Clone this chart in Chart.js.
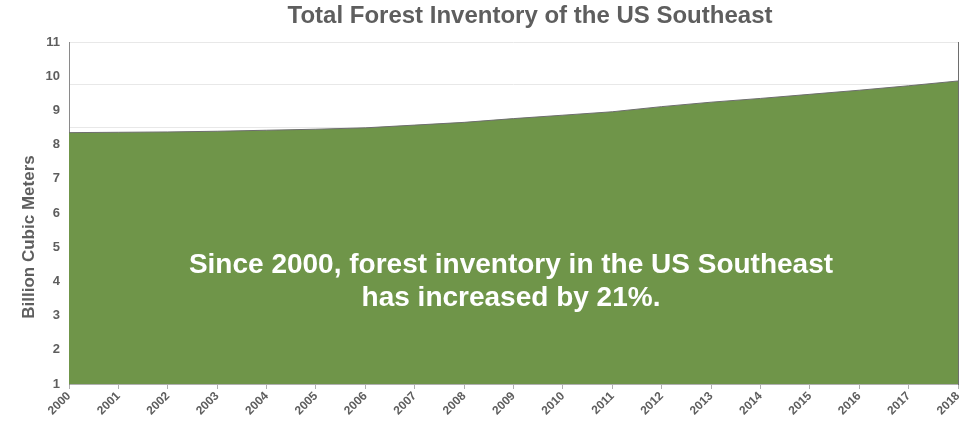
<!DOCTYPE html>
<html>
<head>
<meta charset="utf-8">
<script src="https://cdn.jsdelivr.net/npm/chart.js@4.4.1/dist/chart.umd.min.js"></script>
<style>
  html, body { margin: 0; padding: 0; background: #fff; }
  #wrap { width: 975px; height: 422px; }
</style>
</head>
<body>
<div id="wrap"><canvas id="chart" width="975" height="422"></canvas></div>
<script>
// years on the x axis
const years = ["2000", "2001", "2002", "2003", "2004", "2005", "2006", "2007", "2008", "2009",
  "2010", "2011", "2012", "2013", "2014", "2015", "2016", "2017", "2018"];

// forest inventory, billion cubic meters
const inventory = [8.35, 8.36, 8.37, 8.39, 8.42, 8.45, 8.49, 8.57, 8.65, 8.76,
  8.86, 8.96, 9.11, 9.24, 9.35, 9.47, 9.59, 9.72, 9.86];

const yTicks = [1, 2, 3, 4, 5, 6, 7, 8, 9, 10, 11];

const titleText = "Total Forest Inventory of the US Southeast";
const yTitleText = "Billion Cubic Meters";
const noteLines = ["Since 2000, forest inventory in the US Southeast", "has increased by 21%."];

const FONT = "'Liberation Sans', Arial, sans-serif";
const GREY = "#5e5e5e";

// title, y axis title and the white note inside the green area
const textPlugin = {
  id: "texts",
  afterDraw(chart) {
    const { ctx } = chart;
    ctx.save();
    ctx.textAlign = "center";
    ctx.textBaseline = "middle";
    ctx.fillStyle = GREY;
    ctx.font = "bold 24px " + FONT;
    ctx.fillText(titleText, 530, 16);

    ctx.save();
    ctx.translate(29, 237);
    ctx.rotate(-Math.PI / 2);
    ctx.font = "bold 17px " + FONT;
    ctx.fillText(yTitleText, 0, 0);
    ctx.restore();

    ctx.fillStyle = "#ffffff";
    ctx.font = "bold 28px " + FONT;
    ctx.fillText(noteLines[0], 511, 265);
    ctx.fillText(noteLines[1], 511, 298);
    ctx.restore();
  }
};

new Chart(document.getElementById("chart"), {
  type: "line",
  data: {
    labels: years,
    datasets: [{
      data: inventory,
      fill: "start",
      backgroundColor: "#6f9549",
      borderColor: "#6e6e6e",
      borderWidth: 1,
      pointRadius: 0,
      tension: 0
    }]
  },
  options: {
    responsive: false,
    animation: false,
    layout: { padding: { top: 42, right: 17, left: 0, bottom: 0 } },
    plugins: {
      legend: { display: false },
      title: { display: false },
      tooltip: { enabled: false }
    },
    scales: {
      x: {
        offset: false,
        grid: { display: true, drawOnChartArea: false, drawTicks: true, tickLength: 5, color: "#b0b0b0" },
        border: { display: true, color: "#b0b0b0" },
        ticks: {
          color: GREY,
          font: { family: FONT, size: 12, weight: "bold" },
          maxRotation: 45, minRotation: 45,
          autoSkip: false,
          padding: 0
        },
        afterFit(scale) { scale.height = 38; }
      },
      y: {
        min: 1, max: 11,
        afterBuildTicks(scale) { scale.ticks = yTicks.map(v => ({ value: v })); },
        grid: { display: false },
        border: { display: true, color: "#8a8a8a" },
        ticks: {
          color: GREY,
          font: { family: FONT, size: 13, weight: "bold" },
          padding: 1
        },
        afterFit(scale) { scale.width = 69; }
      },
      // light horizontal gridlines sit on their own step than the labels
      grid2: {
        type: "linear",
        position: "right",
        min: 0, max: 8,
        ticks: { display: false, stepSize: 1 },
        grid: { color: "#e8e8e8", drawTicks: false },
        border: { display: true, color: "#6e6e6e" },
        afterFit(scale) { scale.width = 0; }
      }
    }
  },
  plugins: [textPlugin]
});
</script>
</body>
</html>
